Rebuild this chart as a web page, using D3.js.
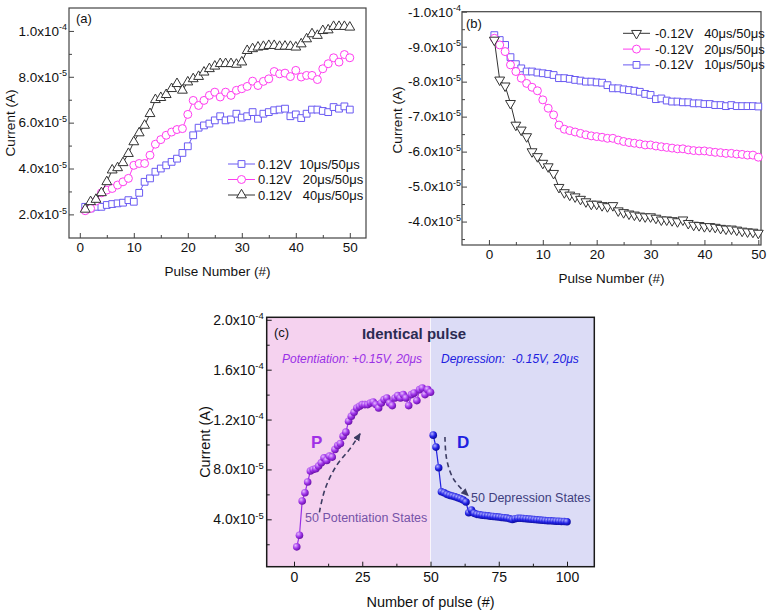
<!DOCTYPE html>
<html>
<head>
<meta charset="utf-8">
<script src="https://cdn.jsdelivr.net/npm/d3@7"></script>
<style>
  body { margin: 0; background: #fff; }
  svg { font-family: Arial, "Liberation Sans", sans-serif; }
</style>
</head>
<body>
<svg id="chart" width="767" height="614"></svg>
<script>
// all currents below are in units of 1e-5 A
var UNIT = 1e-5;
var pulses = d3.range(1, 51);
var pulsesDep = d3.range(51, 101);

// (a) 0.12 V pulses
var aSquare10 = [2.33,2.26,2.33,2.33,2.41,2.45,2.48,2.51,2.62,2.55,2.94,3.42,3.57,3.86,4.00,4.14,4.29,4.43,4.68,4.97,5.45,5.78,5.88,5.96,6.10,6.28,6.10,6.14,6.39,6.22,6.28,6.46,6.17,6.39,6.46,6.54,6.57,6.61,6.28,6.36,6.20,6.39,6.57,6.57,6.51,6.46,6.68,6.61,6.71,6.57];
var aCircle20 = [2.16,2.26,2.58,2.94,3.06,3.13,3.28,3.42,3.57,4.14,4.22,4.22,4.58,5.06,5.26,5.45,5.59,5.70,5.74,6.36,6.97,6.75,6.97,7.19,7.33,7.12,7.33,7.19,7.41,7.48,7.58,7.81,7.62,7.80,7.91,8.23,8.13,8.16,8.01,8.28,7.99,8.06,8.06,7.88,8.35,8.57,8.83,8.64,8.97,8.83];
var aTri40 = [2.22,2.55,2.65,2.94,3.42,3.93,4.03,4.25,4.65,5.16,5.55,5.88,6.39,7.00,7.09,7.22,7.48,7.70,7.41,7.77,7.91,8.01,8.20,8.35,8.46,8.57,8.57,8.57,8.54,8.64,9.14,9.22,9.29,9.32,9.36,9.36,9.32,9.33,9.32,9.29,9.43,9.65,9.87,9.80,10.01,10.04,10.19,10.19,10.19,10.16];
var legendA = ["0.12V  10\u03bcs/50\u03bcs", "0.12V   20\u03bcs/50\u03bcs", "0.12V   40\u03bcs/50\u03bcs"];

// (b) -0.12 V pulses
var bTri40 = [-9.19,-8.05,-7.88,-7.38,-6.76,-6.62,-6.43,-6.00,-5.86,-5.67,-5.57,-5.38,-4.98,-4.83,-4.76,-4.71,-4.64,-4.57,-4.50,-4.50,-4.46,-4.43,-4.46,-4.31,-4.26,-4.22,-4.19,-4.16,-4.14,-4.14,-4.10,-4.05,-4.05,-4.03,-4.00,-4.05,-3.95,-3.90,-3.89,-3.86,-3.86,-3.84,-3.81,-3.79,-3.79,-3.76,-3.73,-3.71,-3.70,-3.67];
var bCircle20 = [-9.24,-9.05,-8.86,-8.48,-8.29,-8.10,-7.95,-7.84,-7.74,-7.48,-7.24,-7.05,-6.76,-6.64,-6.60,-6.56,-6.52,-6.48,-6.45,-6.43,-6.41,-6.38,-6.38,-6.33,-6.29,-6.26,-6.24,-6.22,-6.19,-6.19,-6.16,-6.14,-6.12,-6.10,-6.08,-6.08,-6.05,-6.03,-6.02,-6.02,-6.00,-5.98,-5.97,-5.95,-5.95,-5.93,-5.92,-5.90,-5.90,-5.84];
var bSquare10 = [-9.33,-9.19,-9.05,-8.70,-8.50,-8.38,-8.29,-8.29,-8.26,-8.24,-8.22,-8.19,-8.10,-8.10,-8.08,-8.05,-8.03,-8.00,-8.00,-7.98,-7.97,-7.90,-7.81,-7.81,-7.78,-7.76,-7.74,-7.71,-7.65,-7.62,-7.50,-7.52,-7.46,-7.43,-7.43,-7.41,-7.41,-7.38,-7.38,-7.36,-7.36,-7.33,-7.33,-7.30,-7.33,-7.30,-7.30,-7.30,-7.30,-7.29];
var legendB = ["-0.12V   40\u03bcs/50\u03bcs", "-0.12V   20\u03bcs/50\u03bcs", "-0.12V   10\u03bcs/50\u03bcs"];

// (c) identical pulses
var cPot = [1.79,2.72,5.47,6.13,6.99,7.87,8.00,8.05,8.27,8.53,8.93,8.72,9.07,8.99,9.60,9.92,10.08,10.67,10.99,11.87,12.27,12.59,12.93,13.07,13.20,13.20,13.20,13.33,13.41,13.20,12.93,13.33,13.60,13.73,13.33,13.12,13.73,13.92,13.73,14.00,13.73,13.12,14.00,14.13,13.52,14.40,14.53,14.00,14.40,14.19];
var cDep = [10.75,9.79,8.13,6.21,6.13,6.00,5.92,5.87,5.81,5.73,5.65,5.55,5.39,4.53,4.75,4.48,4.40,4.37,4.33,4.30,4.28,4.25,4.23,4.20,4.18,4.15,4.13,4.10,4.05,3.98,4.05,4.08,4.08,4.07,4.05,4.03,4.00,3.98,3.96,3.95,3.92,3.90,3.88,3.88,3.86,3.85,3.84,3.83,3.82,3.80];
// dashed guide arrows, [pulse, current]
var arrowP = [[9.3,4.56],[11.4,6.44],[15.6,8.32],[20.5,9.65],[24.2,10.86]];
var arrowD = [[55.3,10.6],[55.9,8.85],[58.4,7.24],[63.8,5.9]];

var svg = d3.select('#chart');
svg.append('rect').attr('width', 767).attr('height', 614).attr('fill', '#fff');

var defs = svg.append('defs');
function ball(id, hi, mid, lo) {
  var gr = defs.append('radialGradient').attr('id', id)
    .attr('cx', '35%').attr('cy', '32%').attr('r', '70%');
  gr.append('stop').attr('offset', '0%').attr('stop-color', hi);
  gr.append('stop').attr('offset', '55%').attr('stop-color', mid);
  gr.append('stop').attr('offset', '100%').attr('stop-color', lo);
}
ball('ballP', '#e6b8ff', '#a035ea', '#6a10a8');
ball('ballD', '#b0b0ff', '#2424e6', '#0a0a98');
defs.append('marker').attr('id', 'arr')
  .attr('markerUnits', 'userSpaceOnUse')
  .attr('markerWidth', 10).attr('markerHeight', 8)
  .attr('refX', 7).attr('refY', 3.5).attr('orient', 'auto')
  .append('path').attr('d', 'M0,0 L8,3.5 L0,7 z').attr('fill', '#3c3c62');

// tick label like 2.0x10^-5
function sciLabel(sel, supSize) {
  sel.each(function (d) {
    var v = d * UNIT;
    var e = Math.floor(Math.log10(Math.abs(v)) + 1e-9);
    var m = v / Math.pow(10, e);
    var t = d3.select(this).text(null);
    t.append('tspan').text(m.toFixed(1) + 'x10');
    t.append('tspan').attr('dy', '-0.6em').style('font-size', supSize + 'px').text(e);
  });
}

function axes(g, x, y, o) {
  var l = x.range()[0], r = x.range()[1], b = y.range()[0], t = y.range()[1];
  g.append('rect').attr('x', l).attr('y', t).attr('width', r - l).attr('height', b - t)
    .attr('fill', 'none').attr('stroke', o.frame).attr('stroke-width', o.frameW);

  function style(a) {
    a.select('.domain').remove();
    a.attr('font-family', null).attr('font-size', o.tickFont);
    a.selectAll('line').attr('stroke', o.frame).attr('stroke-width', 1);
    a.selectAll('text').attr('fill', '#111');
  }
  var xa = g.append('g').attr('transform', 'translate(0,' + b + ')')
    .call(d3.axisBottom(x).tickValues(o.xMajor).tickSizeInner(-5).tickSizeOuter(0).tickPadding(o.xPad));
  style(xa);
  var xm = g.append('g').attr('transform', 'translate(0,' + b + ')')
    .call(d3.axisBottom(x).tickValues(o.xMinor).tickSizeInner(-3).tickSizeOuter(0).tickFormat(''));
  style(xm);
  var ya = g.append('g').attr('transform', 'translate(' + l + ',0)')
    .call(d3.axisLeft(y).tickValues(o.yMajor).tickSizeInner(-5).tickSizeOuter(0).tickPadding(o.yPad));
  style(ya);
  ya.selectAll('.tick text').call(sciLabel, o.supFont);
  var ym = g.append('g').attr('transform', 'translate(' + l + ',0)')
    .call(d3.axisLeft(y).tickValues(o.yMinor).tickSizeInner(-3).tickSizeOuter(0).tickFormat(''));
  style(ym);

  g.append('text').attr('x', (l + r) / 2).attr('y', o.xTitleY)
    .attr('text-anchor', 'middle').attr('font-size', o.titleFont).attr('fill', '#111')
    .text(o.xTitle);
  g.append('text').attr('transform', 'translate(' + o.yTitleX + ',' + o.yTitleCY + ') rotate(-90)')
    .attr('text-anchor', 'middle').attr('font-size', o.titleFont).attr('fill', '#111')
    .text('Current (A)');
}

var sym = {
  square: d3.symbol().type(d3.symbolSquare).size(46)(),
  circle: d3.symbol().type(d3.symbolCircle).size(50)(),
  triUp: d3.symbol().type(d3.symbolTriangle).size(42)(),
  triDown: d3.symbol().type(d3.symbolTriangle).size(42)()
};

function series(g, x, y, xs, vals, color, shape) {
  var line = d3.line().x(function (d, i) { return x(xs[i]); }).y(function (d) { return y(d); });
  g.append('path').datum(vals).attr('d', line)
    .attr('fill', 'none').attr('stroke', color).attr('stroke-width', 1);
  g.selectAll(null).data(vals).enter().append('path')
    .attr('d', sym[shape])
    .attr('transform', function (d, i) {
      return 'translate(' + x(xs[i]) + ',' + y(d) + ')' + (shape === 'triDown' ? ' rotate(180)' : '');
    })
    .attr('fill', '#fff').attr('stroke', color).attr('stroke-width', 1);
}

function legend(g, items, x0, y0, dy, textX) {
  items.forEach(function (it, i) {
    var yy = y0 + i * dy;
    g.append('line').attr('x1', x0).attr('x2', x0 + 27).attr('y1', yy).attr('y2', yy)
      .attr('stroke', it.color).attr('stroke-width', 1);
    g.append('path').attr('d', sym[it.shape])
      .attr('transform', 'translate(' + (x0 + 13.5) + ',' + yy + ')' + (it.shape === 'triDown' ? ' rotate(180)' : ''))
      .attr('fill', '#fff').attr('stroke', it.color).attr('stroke-width', 1);
    g.append('text').attr('x', textX).attr('y', yy + 4.5)
      .attr('font-size', 13).attr('fill', '#111').style('white-space', 'pre')
      .text(it.label);
  });
}

var BLUE = '#6a5af2', PINK = '#ff3cf0', DARK = '#333';

// ---------- panel (a)
var ga = svg.append('g');
var xA = d3.scaleLinear().domain([-2, 53]).range([69, 366]);
var yA = d3.scaleLinear().domain([0.97, 11.0]).range([238, 8]);
axes(ga, xA, yA, {
  frame: '#444', frameW: 1.2, tickFont: 13.5, supFont: 9, titleFont: 13.5,
  xMajor: [0, 10, 20, 30, 40, 50], xMinor: [5, 15, 25, 35, 45],
  yMajor: [2, 4, 6, 8, 10], yMinor: [3, 5, 7, 9],
  xPad: 4, yPad: 2, xTitle: 'Pulse Number (#)', xTitleY: 276, yTitleX: 15, yTitleCY: 123
});
series(ga, xA, yA, pulses, aSquare10, BLUE, 'square');
series(ga, xA, yA, pulses, aCircle20, PINK, 'circle');
series(ga, xA, yA, pulses, aTri40, DARK, 'triUp');
legend(ga, [
  { label: legendA[0], color: BLUE, shape: 'square' },
  { label: legendA[1], color: PINK, shape: 'circle' },
  { label: legendA[2], color: DARK, shape: 'triUp' }
], 228, 164, 15.5, 258);
ga.append('text').attr('x', 76).attr('y', 23).attr('font-size', 13).attr('fill', '#111').text('(a)');

// ---------- panel (b)
var gb = svg.append('g');
var xB = d3.scaleLinear().domain([-5, 50.5]).range([462, 761]);
var yB = d3.scaleLinear().domain([-3.33, -10]).range([245, 11.7]);
axes(gb, xB, yB, {
  frame: '#444', frameW: 1.2, tickFont: 13.5, supFont: 9, titleFont: 13.5,
  xMajor: [0, 10, 20, 30, 40, 50], xMinor: [5, 15, 25, 35, 45],
  yMajor: [-4, -5, -6, -7, -8, -9, -10], yMinor: [-3.5, -4.5, -5.5, -6.5, -7.5, -8.5, -9.5],
  xPad: 4, yPad: 1, xTitle: 'Pulse Number (#)', xTitleY: 283, yTitleX: 402, yTitleCY: 120
});
series(gb, xB, yB, pulses, bSquare10, BLUE, 'square');
series(gb, xB, yB, pulses, bCircle20, PINK, 'circle');
series(gb, xB, yB, pulses, bTri40, DARK, 'triDown');
legend(gb, [
  { label: legendB[0], color: DARK, shape: 'triDown' },
  { label: legendB[1], color: PINK, shape: 'circle' },
  { label: legendB[2], color: BLUE, shape: 'square' }
], 623, 33.3, 15.8, 655);
gb.append('text').attr('x', 466).attr('y', 28).attr('font-size', 13).attr('fill', '#111').text('(b)');

// ---------- panel (c)
var gc = svg.append('g');
var xC = d3.scaleLinear().domain([-10, 110]).range([266.7, 594.3]);
var yC = d3.scaleLinear().domain([0.2, 20.2]).range([566.7, 317.3]);
gc.append('rect').attr('x', xC(-10)).attr('y', yC(20.2)).attr('width', xC(50) - xC(-10))
  .attr('height', yC(0.2) - yC(20.2)).attr('fill', '#f5d2ef');
gc.append('rect').attr('x', xC(50)).attr('y', yC(20.2)).attr('width', xC(110) - xC(50))
  .attr('height', yC(0.2) - yC(20.2)).attr('fill', '#dcdcf6');
gc.append('line').attr('x1', xC(50)).attr('x2', xC(50)).attr('y1', yC(20.2)).attr('y2', yC(0.2))
  .attr('stroke', '#fff').attr('stroke-opacity', 0.7).attr('stroke-width', 1);
axes(gc, xC, yC, {
  frame: '#1a1a1a', frameW: 1.5, tickFont: 14, supFont: 9.5, titleFont: 14.5,
  xMajor: [0, 25, 50, 75, 100], xMinor: [12.5, 37.5, 62.5, 87.5],
  yMajor: [4, 8, 12, 16, 20], yMinor: [2, 6, 10, 14, 18],
  xPad: 5, yPad: 3, xTitle: 'Number of pulse (#)', xTitleY: 607, yTitleX: 210, yTitleCY: 442
});

function balls(g, xs, vals, color, grad) {
  var line = d3.line().x(function (d, i) { return xC(xs[i]); }).y(function (d) { return yC(d); });
  g.append('path').datum(vals).attr('d', line)
    .attr('fill', 'none').attr('stroke', color).attr('stroke-width', 1.2);
  g.selectAll(null).data(vals).enter().append('circle')
    .attr('cx', function (d, i) { return xC(xs[i]); })
    .attr('cy', function (d) { return yC(d); })
    .attr('r', 3.8).attr('fill', 'url(#' + grad + ')');
}
balls(gc, pulses, cPot, '#9a30e6', 'ballP');
balls(gc, pulsesDep, cDep, '#2020e0', 'ballD');

var guide = d3.line().curve(d3.curveCatmullRom)
  .x(function (d) { return xC(d[0]); }).y(function (d) { return yC(d[1]); });
[arrowP, arrowD].forEach(function (pts) {
  gc.append('path').datum(pts).attr('d', guide)
    .attr('fill', 'none').attr('stroke', '#3c3c62').attr('stroke-width', 1.6)
    .attr('stroke-dasharray', '5,3.5').attr('marker-end', 'url(#arr)');
});

gc.append('text').attr('x', 274).attr('y', 337).attr('font-size', 13).attr('fill', '#111').text('(c)');
gc.append('text').attr('x', 414).attr('y', 338.5).attr('text-anchor', 'middle')
  .attr('font-size', 15).attr('font-weight', 'bold').attr('fill', '#2b2b52').text('Identical pulse');
gc.append('text').attr('x', 282).attr('y', 362.5).attr('font-size', 12).attr('font-style', 'italic')
  .attr('fill', '#9a30e6').text('Potentiation: +0.15V, 20\u03bcs');
gc.append('text').attr('x', 441).attr('y', 362.5).attr('font-size', 12).attr('font-style', 'italic')
  .attr('fill', '#2020e0').style('white-space', 'pre').text('Depression:  -0.15V, 20\u03bcs');
gc.append('text').attr('x', 311).attr('y', 448).attr('font-size', 17).attr('font-weight', 'bold')
  .attr('fill', '#a030e6').text('P');
gc.append('text').attr('x', 457).attr('y', 448).attr('font-size', 17).attr('font-weight', 'bold')
  .attr('fill', '#2020e0').text('D');
gc.append('text').attr('x', 305).attr('y', 522).attr('font-size', 12.5)
  .attr('fill', '#7652a8').text('50 Potentiation States');
gc.append('text').attr('x', 471).attr('y', 502).attr('font-size', 12.5)
  .attr('fill', '#40407e').text('50 Depression States');
</script>
</body>
</html>
